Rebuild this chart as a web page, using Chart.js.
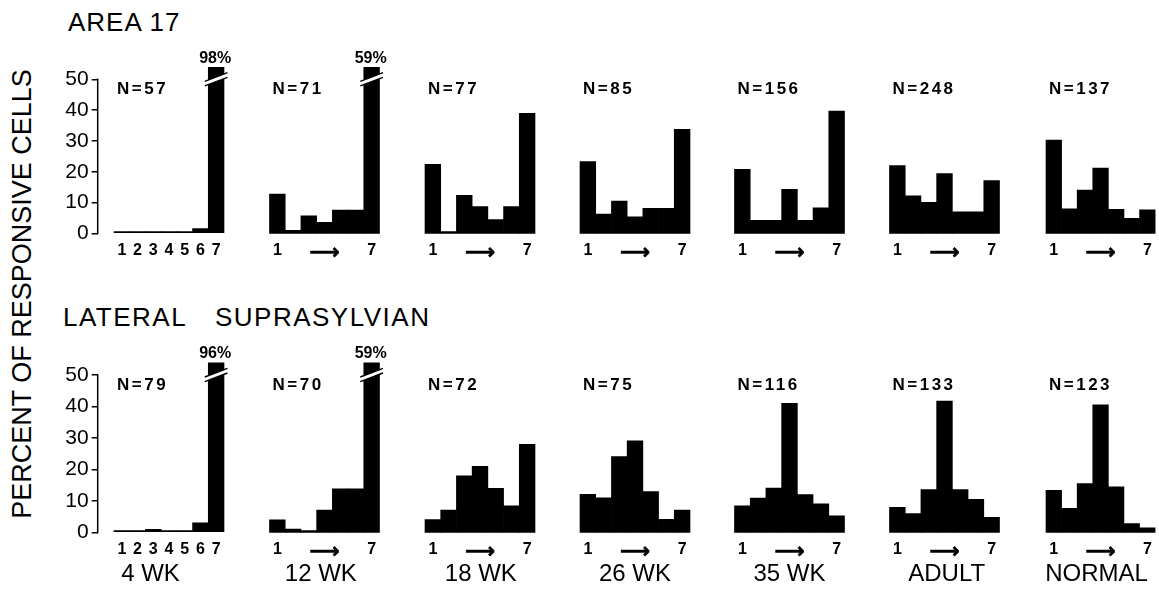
<!DOCTYPE html>
<html><head><meta charset="utf-8">
<script src="https://cdn.jsdelivr.net/npm/chart.js@4.4.1/dist/chart.umd.min.js"></script>
<style>
html,body{margin:0;padding:0;background:#fff;width:1159px;height:592px;overflow:hidden;position:relative;font-family:"Liberation Sans",Arial,sans-serif;}
canvas{position:absolute;}
.t{position:absolute;color:#000;white-space:pre;line-height:1;}
</style></head><body>
<script>
// ---------------- data ----------------
const categories = ['1','2','3','4','5','6','7'];
const ageLabels = ['4 WK','12 WK','18 WK','26 WK','35 WK','ADULT','NORMAL'];
const area17N  = [57, 71, 77, 85, 156, 248, 137];
const lateralN = [79, 70, 72, 75, 116, 133, 123];

const area17Wk4    = [0, 0, 0, 0, 0, 1.6, 98];
const area17Wk12   = [12.8, 1, 5.7, 3.6, 7.6, 7.6, 59];
const area17Wk18   = [22.4, 0, 12.4, 8.7, 4.5, 8.7, 39];
const area17Wk26   = [23.3, 6.3, 10.5, 5.4, 8.2, 8.2, 33.8];
const area17Wk35   = [20.8, 4.3, 4.3, 14.3, 4.3, 8.3, 39.7];
const area17Adult  = [22, 12.2, 10.1, 19.4, 7, 7, 17.2];
const area17Normal = [30.3, 8, 14.1, 21.2, 7.8, 4.9, 7.7];

const lateralWk4    = [0, 0, 1, 0, 0, 3.1, 96];
const lateralWk12   = [4, 1.1, 0, 7.1, 13.9, 13.9, 59];
const lateralWk18   = [4.1, 7.1, 18, 21, 14, 8.5, 28];
const lateralWk26   = [12.1, 11, 24.1, 29.1, 13, 4.2, 7.1];
const lateralWk35   = [8.5, 10.9, 14.1, 41, 12, 9.1, 5.3];
const lateralAdult  = [8, 6, 13.6, 41.7, 13.6, 10.5, 4.8];
const lateralNormal = [13.4, 7.7, 15.5, 40.5, 14.5, 2.8, 1.5];

const yTickValues = [0, 10, 20, 30, 40, 50];
const firstTickLabels = ['1','2','3','4','5','6','7'];
const otherTickLabels = ['1','','','\u27F6','','','7'];
const sectionTitles = ['AREA 17', 'LATERAL SUPRASYLVIAN'];
const yAxisTitle = 'PERCENT OF RESPONSIVE CELLS';
const breakValue = 50;

// ---------------- layout ----------------
const FONT = '"Liberation Sans", Arial, sans-serif';
const Y_MAX = 54;
const BAR_W = 110;
const colLeft = [114, 269.5, 425, 580, 734.5, 889.5, 1046];
const labelShift = [-18.5, -3.7, 0.8, 0, 0, 2.2, -4];
const rowGeom = [
  {top: 40,  padTop: 27,   base: 233.5, h: 224},
  {top: 340, padTop: 22.4, base: 532.5, h: 252}
];
const rowValues = [
  [area17Wk4, area17Wk12, area17Wk18, area17Wk26, area17Wk35, area17Adult, area17Normal],
  [lateralWk4, lateralWk12, lateralWk18, lateralWk26, lateralWk35, lateralAdult, lateralNormal]
];
const rowN = [area17N, lateralN];

// ---------------- titles (HTML text) ----------------
function addText(txt, css) {
  const d = document.createElement('div');
  d.className = 't';
  d.textContent = txt;
  d.style.cssText += css;
  document.body.appendChild(d);
  return d;
}
addText(sectionTitles[0], 'left:68px;top:9px;font-size:26px;letter-spacing:1px;');
addText(sectionTitles[1], 'left:63px;top:304px;font-size:26px;letter-spacing:1.5px;word-spacing:20px;');
addText(yAxisTitle, 'left:21.5px;top:294px;font-size:27px;transform:translate(-50%,-50%) rotate(-90deg);');

// ---------------- charts ----------------
function makePanel(row, col) {
  const R = rowGeom[row];
  const values = rowValues[row][col];
  const first = col === 0;
  const colL = colLeft[col];
  const cLeft = first ? 40 : Math.floor(colL - 9);
  const padL = first ? 0 : colL - cLeft;
  const cW = Math.min(1159 - cLeft, Math.ceil(colL + BAR_W + 8 - cLeft));
  const padR = cLeft + cW - (colL + BAR_W);
  const xAxisH = R.h - (R.base - R.top);

  const canvas = document.createElement('canvas');
  canvas.width = cW; canvas.height = R.h;
  canvas.style.left = cLeft + 'px';
  canvas.style.top = R.top + 'px';
  canvas.style.width = cW + 'px';
  canvas.style.height = R.h + 'px';
  document.body.appendChild(canvas);

  const tickLabels = first ? firstTickLabels : otherTickLabels;
  const isArrow = (ctx) => ctx.index === 3 && !first;

  const scales = {
    x: {
      type: 'category',
      offset: true,
      grid: {display: false, drawTicks: false},
      border: {display: false},
      ticks: {
        autoSkip: false, maxRotation: 0, minRotation: 0, padding: 7, color: '#000',
        callback: (v, i) => tickLabels[i],
        textStrokeColor: '#000',
        textStrokeWidth: (ctx) => isArrow(ctx) ? 0.7 : 0,
        font: (ctx) => isArrow(ctx)
          ? {family: '"DejaVu Sans", sans-serif', size: 21, weight: 'bold'}
          : {family: FONT, size: 16, weight: 'bold'}
      },
      afterFit: (s) => { s.height = xAxisH; }
    },
    y: {
      type: 'linear',
      display: first,
      position: 'left',
      weight: 1,
      min: 0, max: Y_MAX,
      grid: {display: true, drawOnChartArea: false, drawTicks: true, tickLength: 6, color: '#000', lineWidth: 1.5},
      border: {display: false},
      ticks: {color: '#000', padding: 3, font: {family: FONT, size: 21}, includeBounds: false},
      afterBuildTicks: (s) => { s.ticks = yTickValues.map(v => ({value: v})); }
    }
  };
  if (first) {
    scales.y.afterFit = (s) => { s.width = 57.7; };
    scales.spacer = {
      type: 'linear', position: 'left', weight: 0, display: true,
      grid: {display: false, drawTicks: false}, border: {display: false},
      ticks: {display: false},
      afterFit: (s) => { s.width = colL - 97.7; }
    };
  }

  const decor = {
    id: 'decor' + row + col,
    afterDatasetsDraw(chart) {
      const ctx = chart.ctx;
      const y = chart.scales.y;
      const meta = chart.getDatasetMeta(0);
      ctx.save();
      meta.data.forEach((bar, i) => {
        const v = values[i];
        if (v <= Y_MAX) return;
        const half = bar.width / 2;
        const xa = bar.x - half - 3.5, xb = bar.x + half + 3.5;
        const yc = y.getPixelForValue(breakValue);
        const rise = (xb - xa) * 0.38 / 2;
        const g = 2.3;
        ctx.fillStyle = '#fff';
        ctx.beginPath();
        ctx.moveTo(xa, yc + rise - g);
        ctx.lineTo(xb, yc - rise - g);
        ctx.lineTo(xb, yc - rise + g);
        ctx.lineTo(xa, yc + rise + g);
        ctx.closePath();
        ctx.fill();
        ctx.strokeStyle = '#000';
        ctx.lineWidth = 1.4;
        ctx.beginPath();
        ctx.moveTo(xa, yc + rise - g); ctx.lineTo(xb, yc - rise - g);
        ctx.moveTo(xa, yc + rise + g); ctx.lineTo(xb, yc - rise + g);
        ctx.stroke();
        // percent label
        ctx.fillStyle = '#000';
        ctx.font = 'bold 16px ' + FONT;
        ctx.textAlign = 'center';
        ctx.textBaseline = 'middle';
        ctx.fillText(v + '%', bar.x - 1, chart.chartArea.top - 8.5);
      });
      ctx.restore();
    },
    afterDraw(chart) {
      const ctx = chart.ctx;
      const y = chart.scales.y;
      const a = chart.chartArea;
      ctx.save();
      // N label
      ctx.fillStyle = '#000';
      ctx.font = 'bold 17px ' + FONT;
      ctx.textAlign = 'left';
      ctx.textBaseline = 'middle';
      try { ctx.letterSpacing = '2.5px'; } catch (e) {}
      ctx.fillText('N=' + rowN[row][col], a.left + 3, y.getPixelForValue(46.7));
      try { ctx.letterSpacing = '0px'; } catch (e) {}
      // y axis line 0..50
      if (first) {
        ctx.strokeStyle = '#000';
        ctx.lineWidth = 1.5;
        ctx.beginPath();
        ctx.moveTo(y.right, y.getPixelForValue(0) + 0.75);
        ctx.lineTo(y.right, y.getPixelForValue(yTickValues[yTickValues.length - 1]) - 0.75);
        ctx.stroke();
      }
      // group label under bottom row
      if (row === 1) {
        ctx.font = '24px ' + FONT;
        ctx.textAlign = 'center';
        ctx.fillText(ageLabels[col], (a.left + a.right) / 2 + labelShift[col], 574 - R.top);
      }
      ctx.restore();
    }
  };

  return new Chart(canvas, {
    type: 'bar',
    data: {
      labels: categories,
      datasets: [{
        data: values,
        backgroundColor: '#000',
        borderWidth: 0,
        barPercentage: 1,
        categoryPercentage: 1,
        minBarLength: 2,
        clip: {top: 0, left: 5, right: 5, bottom: 5}
      }]
    },
    options: {
      responsive: false,
      animation: false,
      devicePixelRatio: 1,
      layout: {padding: {top: R.padTop, left: padL, right: padR, bottom: 0}},
      plugins: {legend: {display: false}, tooltip: {enabled: false}, title: {display: false}},
      scales
    },
    plugins: [decor]
  });
}

for (let r = 0; r < 2; r++) for (let c = 0; c < 7; c++) makePanel(r, c);
</script>
</body></html>
